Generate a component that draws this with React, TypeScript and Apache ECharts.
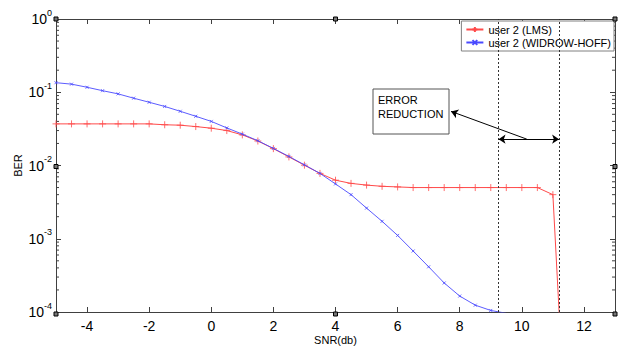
import React, { useEffect, useRef } from 'react';
import * as echarts from 'echarts';

const snrLms = [-5, -4.5, -4, -3.5, -3, -2.5, -2, -1.5, -1, -0.5, 0, 0.5, 1, 1.5, 2, 2.5, 3, 3.5, 4, 4.5, 5, 5.5, 6, 6.5, 7, 7.5, 8, 8.5, 9, 9.5, 10, 10.5, 11, 11.5];
const berLms = [0.037, 0.037, 0.037, 0.037, 0.037, 0.037, 0.037, 0.036, 0.0355, 0.034, 0.0323, 0.030, 0.0262, 0.0216, 0.0170, 0.0131, 0.0101, 0.0078, 0.0063, 0.0057, 0.0054, 0.0052, 0.0051, 0.0050, 0.0050, 0.0050, 0.0050, 0.0050, 0.0050, 0.0050, 0.0050, 0.0050, 0.0040, 0.0000004];

const snrWh = [-5, -4.5, -4, -3.5, -3, -2.5, -2, -1.5, -1, -0.5, 0, 0.5, 1, 1.5, 2, 2.5, 3, 3.5, 4, 4.5, 5, 5.5, 6, 6.5, 7, 7.5, 8, 8.5, 9, 9.5];
const berWh = [0.135, 0.129, 0.117, 0.105, 0.095, 0.083, 0.073, 0.064, 0.055, 0.047, 0.040, 0.0326, 0.0268, 0.0218, 0.0171, 0.0133, 0.0102, 0.0078, 0.0056, 0.0040, 0.00262, 0.00173, 0.00111, 0.00068, 0.000414, 0.000249, 0.000165, 0.000124, 0.000105, 0.000096];

const xTicks = [-4, -2, 0, 2, 4, 6, 8, 10, 12];
const yMinorTicks = [
  0.0002, 0.0003, 0.0004, 0.0005, 0.0006, 0.0007, 0.0008, 0.0009,
  0.002, 0.003, 0.004, 0.005, 0.006, 0.007, 0.008, 0.009,
  0.02, 0.03, 0.04, 0.05, 0.06, 0.07, 0.08, 0.09,
  0.2, 0.3, 0.4, 0.5, 0.6, 0.7, 0.8, 0.9,
];
const boundarySnr = [9.25, 11.2];
const arrowBer = 0.0229;
const pointerFrom = [10.16, 0.0229];
const pointerTo = [7.72, 0.0548];
const legendNames = ['user 2 (LMS)', 'user 2 (WIDROW-HOFF)'];
const annotationText = 'ERROR\nREDUCTION';

const X_MIN = -5;
const X_MAX = 13;
const Y_MIN = 0.0001;
const Y_MAX = 1;

const GRID = { left: 56, right: 6, top: 19, bottom: 36 };
const W = 621;
const H = 350;
const AXIS_COLOR = '#404040';
const FONT = 'Liberation Sans, Arial, sans-serif';
const RED = '#ff4a4a';
const BLUE = '#4a4aff';

const plusPath = 'path://M5,0L5,10M0,5L10,5';
const crossPath = 'path://M0,0L10,10M10,0L0,10';

export default function App() {
  const ref = useRef<HTMLDivElement>(null);
  useEffect(() => {
    document.body.style.margin = '0';
    const chart = echarts.init(ref.current!, null, { renderer: 'svg' });
    const gx0 = GRID.left;
    const gx1 = W - GRID.right;
    const gy0 = GRID.top;
    const gy1 = H - GRID.bottom;
    const gxm = (gx0 + gx1) / 2;
    const gym = (gy0 + gy1) / 2;
    const handles = [
      [gx0, gy0], [gxm, gy0], [gx1, gy0],
      [gx0, gym], [gx1, gym],
      [gx0, gy1], [gxm, gy1], [gx1, gy1],
    ].map(([x, y]) => ({
      type: 'rect',
      shape: { x: x - 2, y: y - 2, width: 4, height: 4 },
      style: { fill: '#777', stroke: '#000', lineWidth: 1 },
      z: 100,
    }));

    const supLabel = (v: number) => {
      const e = Math.round(Math.log10(v));
      return '{b|10}{s|' + e + '}';
    };

    const option: any = {
      animation: false,
      backgroundColor: '#ffffff',
      grid: { left: GRID.left, right: GRID.right, top: GRID.top, bottom: GRID.bottom, containLabel: false },
      legend: {
        right: GRID.right + 1,
        top: 21,
        orient: 'vertical',
        align: 'left',
        data: legendNames,
        backgroundColor: '#ffffff',
        borderColor: '#808080',
        borderWidth: 1,
        borderRadius: 0,
        padding: [3, 3, 3, 4],
        itemGap: 2,
        itemWidth: 17,
        itemHeight: 6,
        textStyle: { fontSize: 11, fontFamily: FONT, color: '#000' },
      },
      xAxis: [
        {
          type: 'value',
          min: X_MIN,
          max: X_MAX,
          name: 'SNR(db)',
          nameLocation: 'middle',
          nameGap: 22,
          nameMoveOverlap: false,
          nameTextStyle: { fontSize: 11, fontFamily: FONT, color: '#000' },
          axisLine: { show: true, onZero: false, lineStyle: { color: AXIS_COLOR, width: 1 } },
          axisTick: { show: true, inside: true, length: 5, customValues: xTicks, lineStyle: { color: AXIS_COLOR } },
          axisLabel: { show: true, customValues: xTicks, margin: 7, fontSize: 14, fontFamily: FONT, color: '#000' },
          splitLine: { show: false },
        },
        {
          type: 'value',
          position: 'top',
          min: X_MIN,
          max: X_MAX,
          axisLine: { show: true, onZero: false, lineStyle: { color: AXIS_COLOR, width: 1 } },
          axisTick: { show: true, inside: true, length: 5, customValues: xTicks, lineStyle: { color: AXIS_COLOR } },
          axisLabel: { show: false },
          splitLine: { show: false },
        },
      ],
      yAxis: [
        {
          type: 'log',
          logBase: 10,
          min: Y_MIN,
          max: Y_MAX,
          name: 'BER',
          nameLocation: 'middle',
          nameRotate: 90,
          nameGap: 33,
          nameMoveOverlap: false,
          nameTextStyle: { fontSize: 11, fontFamily: FONT, color: '#000' },
          axisLine: { show: true, onZero: false, lineStyle: { color: AXIS_COLOR, width: 1 } },
          axisTick: { show: true, inside: true, length: 5, lineStyle: { color: AXIS_COLOR } },
          axisLabel: {
            show: true,
            margin: 4,
            formatter: supLabel,
            rich: {
              b: { fontSize: 14, fontFamily: FONT, color: '#000', lineHeight: 22 },
              s: { fontSize: 9, fontFamily: FONT, color: '#000', lineHeight: 10, verticalAlign: 'top' },
            },
          },
          splitLine: { show: false },
        },
        {
          type: 'log',
          logBase: 10,
          position: 'right',
          min: Y_MIN,
          max: Y_MAX,
          axisLine: { show: true, onZero: false, lineStyle: { color: AXIS_COLOR, width: 1 } },
          axisTick: { show: true, inside: true, length: 5, lineStyle: { color: AXIS_COLOR } },
          axisLabel: { show: false },
          splitLine: { show: false },
        },
      ],
      graphic: [
        {
          type: 'rect',
          shape: { x: 373, y: 89, width: 76, height: 45 },
          style: { fill: '#ffffff', stroke: '#555', lineWidth: 1 },
          z: 50,
        },
        {
          type: 'text',
          x: 378,
          y: 93,
          style: { text: annotationText, fontSize: 11, fontFamily: FONT, fill: '#000', lineHeight: 14 },
          z: 51,
        },
        ...handles,
      ],
      series: [
        {
          name: legendNames[0],
          type: 'line',
          data: snrLms.map((x, i) => [x, berLms[i]]),
          xAxisIndex: 0,
          yAxisIndex: 0,
          symbol: plusPath,
          symbolSize: 7,
          showSymbol: true,
          showAllSymbol: true,
          clip: true,
          lineStyle: { color: RED, width: 1 },
          itemStyle: { color: RED, borderColor: RED, borderWidth: 0.8 },
          markLine: {
            silent: true,
            symbol: ['none', 'none'],
            label: { show: false },
            lineStyle: { color: '#333', type: [2, 2], width: 1 },
            data: boundarySnr.map((v) => ({ xAxis: v })),
          },
          z: 2,
        },
        {
          name: legendNames[1],
          type: 'line',
          data: snrWh.map((x, i) => [x, berWh[i]]),
          xAxisIndex: 0,
          yAxisIndex: 0,
          symbol: crossPath,
          symbolSize: 3,
          showSymbol: true,
          showAllSymbol: true,
          clip: true,
          lineStyle: { color: BLUE, width: 0.9 },
          itemStyle: { color: BLUE, borderColor: BLUE, borderWidth: 0.8 },
          markLine: {
            silent: true,
            symbolSize: 7,
            label: { show: false },
            lineStyle: { color: '#000', type: 'solid', width: 1 },
            data: [
              [
                { coord: [boundarySnr[0], arrowBer], symbol: 'arrow' },
                { coord: [boundarySnr[1], arrowBer], symbol: 'arrow' },
              ],
              [
                { coord: pointerFrom, symbol: 'none' },
                { coord: pointerTo, symbol: 'arrow' },
              ],
            ],
          },
          z: 3,
        },
        {
          type: 'custom',
          coordinateSystem: 'cartesian2d',
          xAxisIndex: 0,
          yAxisIndex: 0,
          silent: true,
          data: yMinorTicks.map((v) => [X_MIN, v]),
          renderItem: (params: any, api: any) => {
            const v = api.value(1);
            const l = api.coord([X_MIN, v]);
            const r = api.coord([X_MAX, v]);
            return {
              type: 'group',
              children: [
                { type: 'line', shape: { x1: l[0], y1: l[1], x2: l[0] + 3, y2: l[1] }, style: { stroke: AXIS_COLOR, lineWidth: 1 } },
                { type: 'line', shape: { x1: r[0] - 3, y1: r[1], x2: r[0], y2: r[1] }, style: { stroke: AXIS_COLOR, lineWidth: 1 } },
              ],
            };
          },
          z: 1,
        },
      ],
    };
    chart.setOption(option);
    return () => chart.dispose();
  }, []);
  return <div ref={ref} style={{ width: W, height: H, position: 'absolute', left: 0, top: 0 }} />;
}
